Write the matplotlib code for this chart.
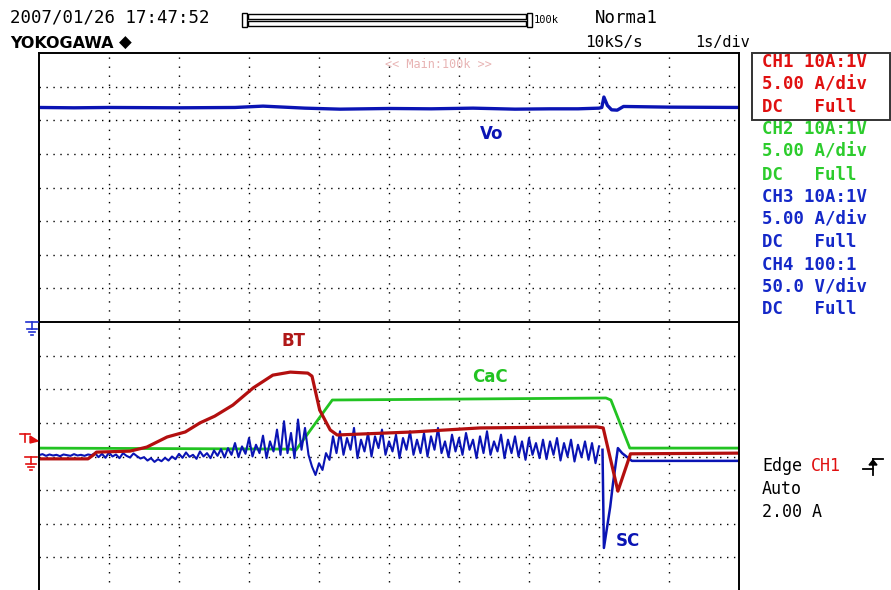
import matplotlib
matplotlib.use("Agg")
import numpy as np
import matplotlib.pyplot as plt
from matplotlib.lines import Line2D
from matplotlib.patches import Rectangle, Polygon

W, H = 891, 590

# all traces: x in seconds (1 s/div), y in screen divisions counted from the bottom (16 div tall)
vo_t = [0.0, 0.5, 1.0, 2.0, 2.8, 3.2, 3.8, 4.3, 5.0, 5.6, 6.2, 6.8, 7.3, 7.7, 8.0,
        8.04, 8.07, 8.12, 8.18, 8.26, 8.35, 9.0, 10.0]
vo_y = [14.38, 14.37, 14.38, 14.37, 14.38, 14.42, 14.36, 14.33, 14.35, 14.34, 14.36, 14.33,
        14.34, 14.34, 14.36, 14.38, 14.69, 14.44, 14.31, 14.30, 14.41, 14.39, 14.38]

# CH1 (BT)
red_t = [0.0, 0.70, 0.78, 0.82, 1.30, 1.54, 1.83, 2.09, 2.30, 2.51, 2.77, 3.06, 3.34, 3.59,
         3.84, 3.90, 4.01, 4.16, 4.26, 5.34, 6.30, 7.26, 7.97, 8.06, 8.20, 8.27, 8.45, 10.0]
red_y = [3.93, 3.93, 4.05, 4.13, 4.16, 4.28, 4.58, 4.73, 5.00, 5.20, 5.53, 6.04, 6.42, 6.51,
         6.48, 6.39, 5.38, 4.79, 4.64, 4.73, 4.85, 4.87, 4.88, 4.85, 3.60, 2.97, 4.08, 4.10]

# CH2 (CaC)
green_t = [0.0, 3.59, 3.67, 4.19, 8.10, 8.17, 8.44, 10.0]
green_y = [4.25, 4.22, 4.19, 5.68, 5.74, 5.68, 4.25, 4.25]

# CH3 (SC) sampled every 0.05 s from 0 to 8 s, then the turn-off transient
blue_noisy = [
    4.04, 4.07, 4.02, 4.06, 4.03, 4.05, 4.01, 4.06, 4.04, 4.02, 4.07, 4.03, 4.05, 4.02, 4.06, 4.04,
    4.10, 3.98, 4.08, 3.96, 4.12, 4.00, 4.06, 3.95, 4.10, 4.02, 3.97, 4.09, 4.01, 3.94,
    3.98, 3.88, 3.95, 3.84, 3.92, 3.86, 3.96, 3.88, 4.00, 3.92,
    4.08, 3.96, 4.12, 3.99, 4.05, 3.93, 4.15, 4.00, 4.10, 3.95, 4.18, 4.02, 4.22, 3.97, 4.25, 4.05,
    4.40, 3.98, 4.30, 4.08,
    4.55, 4.00, 4.35, 4.10, 4.62, 3.95, 4.45, 4.15, 4.80, 4.05, 5.05, 4.10, 4.70, 3.95, 5.10, 4.20,
    4.85, 4.05,
    3.70, 3.45, 3.80, 3.60, 4.10, 3.90,
    4.60, 4.10, 4.75, 4.05, 4.55, 4.20, 4.85, 3.95, 4.50, 4.15, 4.70, 4.00, 4.60, 4.25, 4.80, 4.05,
    4.45, 4.15, 4.65, 3.95, 4.55, 4.20, 4.75, 4.05, 4.50, 4.10, 4.70, 4.00, 4.60, 4.20, 4.85, 4.10,
    4.45, 3.98, 4.65, 4.15, 4.55, 4.05, 4.70, 4.20, 4.50, 3.95, 4.60, 4.10, 4.75, 4.05, 4.45, 4.15,
    4.65, 3.95, 4.50, 4.10, 4.60, 4.00, 4.45, 3.90, 4.55, 4.05, 4.40, 3.95, 4.50, 3.92, 4.45, 4.05,
    4.55, 3.88, 4.40, 4.00, 4.50, 3.85, 4.35, 3.98, 4.45, 3.90, 4.40, 3.80, 4.30,
]
blue_tail_t = [8.05, 8.07, 8.16, 8.20, 8.27, 8.33, 8.47, 10.0]
blue_tail_y = [4.20, 1.28, 2.50, 3.20, 4.25, 4.10, 3.87, 3.87]

ch_info = [
    ("CH1 10A:1V", "#e01010"), ("5.00 A/div", "#e01010"), ("DC   Full", "#e01010"),
    ("CH2 10A:1V", "#2ccc2c"), ("5.00 A/div", "#2ccc2c"), ("DC   Full", "#2ccc2c"),
    ("CH3 10A:1V", "#1428c8"), ("5.00 A/div", "#1428c8"), ("DC   Full", "#1428c8"),
    ("CH4 100:1", "#1428c8"), ("50.0 V/div", "#1428c8"), ("DC   Full", "#1428c8"),
]

RED = "#b30f0f"
GREEN = "#22c322"
BLUE = "#0a14b4"
MONO = "DejaVu Sans Mono"


def fx(x):
    return x / W


def fy(y):
    return 1 - y / H


fig = plt.figure(figsize=(W / 100, H / 100), dpi=100)
ax = fig.add_axes([fx(39), fy(591), (739 - 39) / W, (591 - 53) / H])
ax.set_xlim(0, 10)
ax.set_ylim(0, 16)
ax.set_xticks([])
ax.set_yticks([])
for s in ax.spines.values():
    s.set_linewidth(1.4)

# graticule
for gx in range(1, 10):
    ax.axvline(gx, color="black", lw=1.0, ls=(0, (1, 5.5)))
for gy in range(1, 16):
    if gy == 8:
        ax.axhline(gy, color="black", lw=1.4)
    else:
        ax.axhline(gy, color="black", lw=1.0, ls=(0, (1, 4)))

blue_t = np.linspace(0, 8.0, len(blue_noisy))
ax.plot(vo_t, vo_y, color=BLUE, lw=2.4)
ax.plot(green_t, green_y, color=GREEN, lw=2.0)
ax.plot(blue_t, blue_noisy, color=BLUE, lw=1.5)
ax.plot(blue_tail_t, blue_tail_y, color=BLUE, lw=1.8)
ax.plot(red_t, red_y, color=RED, lw=2.3)

ax.text(6.47, 13.59, "Vo", color=BLUE, fontsize=12, fontweight="bold", ha="center", va="center")
ax.text(3.63, 7.43, "BT", color="#b01818", fontsize=12, fontweight="bold", ha="center", va="center")
ax.text(6.44, 6.36, "CaC", color=GREEN, fontsize=12, fontweight="bold", ha="center", va="center")
ax.text(8.41, 1.49, "SC", color=BLUE, fontsize=12, fontweight="bold", ha="center", va="center")
ax.text(5.7, 15.65, "<< Main:100k >>", color="#e8b4b4", fontsize=8.5, family=MONO,
        ha="center", va="center")

# header
fig.text(fx(10), fy(18), "2007/01/26 17:47:52", fontsize=12.5, family=MONO, va="center")
fig.text(fx(10), fy(43), "YOKOGAWA", fontsize=11.5, fontweight="bold", va="center")
fig.text(fx(119), fy(43), "\u25c6", fontsize=12, va="center")
fig.text(fx(595), fy(18), "Norma1", fontsize=12.5, family=MONO, va="center")
fig.text(fx(585), fy(43), "10kS/s", fontsize=11.5, family=MONO, va="center")
fig.text(fx(695), fy(43), "1s/div", fontsize=11, family=MONO, va="center")
fig.text(fx(534), fy(20), "100k", fontsize=7.5, family=MONO, va="center")

# record-length bar
for x0, x1, y0, y1 in [(242, 247, 13, 27), (527, 532, 13, 27), (248, 526, 14, 19), (248, 526, 21, 26)]:
    fig.add_artist(Rectangle((fx(x0), fy(y1)), (x1 - x0) / W, (y1 - y0) / H,
                             transform=fig.transFigure, fill=False, lw=1.0, ec="black"))

# channel settings
fig.add_artist(Rectangle((fx(752), fy(120)), (890 - 752) / W, (120 - 53) / H,
                         transform=fig.transFigure, fill=False, lw=1.4, ec="#333333"))
for i, (txt, col) in enumerate(ch_info):
    fig.text(fx(762), fy(62 + i * 22.5), txt, color=col, fontsize=12.5, family=MONO,
             fontweight="bold", va="center")

# trigger block
fig.text(fx(762), fy(466), "Edge", fontsize=12, family=MONO, va="center")
fig.text(fx(811), fy(466), "CH1", color="#e01010", fontsize=12, family=MONO, va="center")
fig.text(fx(762), fy(489), "Auto", fontsize=12, family=MONO, va="center")
fig.text(fx(762), fy(512), "2.00 A", fontsize=12, family=MONO, va="center")
for xs, ys in [([863, 873], [469, 469]), ([873, 873], [475, 459]), ([873, 883], [459, 459])]:
    fig.add_artist(Line2D([fx(v) for v in xs], [fy(v) for v in ys], color="black", lw=1.3))
fig.add_artist(Polygon([(fx(869), fy(465)), (fx(877), fy(465)), (fx(873), fy(460))],
                       closed=True, transform=fig.transFigure, color="black"))


def ground(x, y, col):
    segs = [([x - 6, x + 6], [y, y]), ([x, x], [y, y + 7]), ([x - 5, x + 5], [y + 7, y + 7]),
            ([x - 3, x + 3], [y + 10, y + 10]), ([x - 1, x + 1], [y + 13, y + 13])]
    for xs, ys in segs:
        fig.add_artist(Line2D([fx(v) for v in xs], [fy(v) for v in ys], color=col, lw=1.2))


ground(32, 322, "#2030d0")
ground(31, 457, "#e01010")
# trigger level marker
fig.add_artist(Line2D([fx(20), fx(30)], [fy(434), fy(434)], color="#e01010", lw=1.2))
fig.add_artist(Line2D([fx(25), fx(25)], [fy(434), fy(442)], color="#e01010", lw=1.2))
fig.add_artist(Polygon([(fx(30), fy(436)), (fx(38), fy(441)), (fx(30), fy(443))],
                       closed=True, transform=fig.transFigure, color="#e01010"))

fig.savefig("out.png", dpi=100)
